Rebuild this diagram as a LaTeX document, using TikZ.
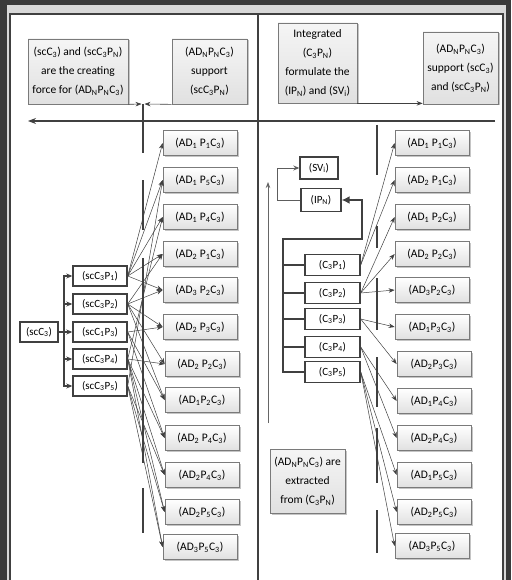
\documentclass[tikz,border=0pt]{standalone}
\usepackage{fontspec}
\setmainfont{Carlito}
\usetikzlibrary{arrows.meta,shadows,calc}
\newcommand\sbs[1]{\textsubscript{#1}}
\definecolor{lnc}{HTML}{404040}
\definecolor{frame}{HTML}{3A3A3A}
\definecolor{bgg}{HTML}{D8D8D8}
\definecolor{bxb}{HTML}{7A7A7A}
\begin{document}
\begin{tikzpicture}[x=1pt,y=-1pt,
  adbox/.style={draw=bxb,line width=0.7pt,top color=white,bottom color=black!12,
    minimum width=74pt,minimum height=25pt,inner sep=1pt,
    drop shadow={shadow xshift=1.5pt,shadow yshift=-1.5pt,opacity=0.45},
    font=\fontsize{11.5}{13}\selectfont},
  scbox/.style={draw=lnc,line width=1.4pt,fill=white,minimum height=20pt,inner sep=1pt,
    font=\fontsize{11}{13}\selectfont},
  txtbox/.style={draw=bxb,line width=0.7pt,top color=black!4,bottom color=black!12,
    align=center,inner sep=1pt,
    drop shadow={shadow xshift=1.5pt,shadow yshift=-1.5pt,opacity=0.45},
    font=\fontsize{11.5}{19}\selectfont},
  conn/.style={draw=lnc,line width=0.6pt,-{Stealth[length=6pt,width=4.5pt]}},
  fan/.style={draw=lnc,line width=0.5pt,-{Stealth[length=6pt,width=4.5pt]}},
  busline/.style={draw=lnc,line width=1.5pt},
  bar/.style={draw=lnc,line width=2pt}]
\useasboundingbox (0,0) rectangle (511,580);
% frame
\fill[frame] (0,0) rectangle (511,580);
\fill[bgg] (7,5) rectangle (506,580);
\fill[white] (10,14) rectangle (503,580);
\draw[lnc,line width=1.6pt] (10,582) -- (10,14) -- (503,14) -- (503,582);
% divider
\draw[lnc,line width=2.2pt] (258,14) -- (258,580);
% top text boxes
\node[txtbox,minimum width=100pt,minimum height=65pt] (A) at (78,71.5)
  {(scC\sbs{3}) and (scC\sbs{3}P\sbs{N})\\are the creating\\force for (AD\sbs{N}P\sbs{N}C\sbs{3})};
\node[txtbox,minimum width=75pt,minimum height=65pt] (B) at (209.5,71.5)
  {(AD\sbs{N}P\sbs{N}C\sbs{3})\\support\\(scC\sbs{3}P\sbs{N})};
\node[txtbox,minimum width=79pt,minimum height=80pt] (C) at (317.5,63)
  {Integrated\\(C\sbs{3}P\sbs{N})\\formulate the\\(IP\sbs{N}) and (SV\sbs{i})};
\node[txtbox,minimum width=75pt,minimum height=72pt] (D) at (460.5,68)
  {(AD\sbs{N}P\sbs{N}C\sbs{3})\\support (scC\sbs{3})\\and (scC\sbs{3}P\sbs{N})};
\node[txtbox,minimum width=75pt,minimum height=64pt] (E) at (307.5,481)
  {(AD\sbs{N}P\sbs{N}C\sbs{3}) are\\extracted\\from (C\sbs{3}P\sbs{N})};
% top connectors
\coordinate (m) at (143,104);
\draw[conn] (A.south east) -- ($(m)+(-1.5,0)$);
\draw[conn] (B.south west) -- ($(m)+(1.5,0)$);
\draw[conn] (C.south east) -- (C.south east -| D.west);
\coordinate (h1) at (495,121);
\coordinate (h0) at (28,121);
\draw[draw=lnc,line width=1.2pt,-{Stealth[length=8pt,width=6pt]}] (h1) -- (h0);
% dashed bars
\draw[bar] (143,104) -- (143,153);
\draw[bar] (143,180) -- (143,230);
\draw[bar] (143,258) -- (143,463);
\draw[bar] (143,488) -- (143,533);
\draw[bar] (377,125) -- (377,175);
\draw[bar] (377,226) -- (377,248);
\draw[bar] (377,278) -- (377,330);
\draw[bar] (377,357) -- (377,407);
\draw[bar] (377,428) -- (377,483);
\draw[bar] (377,510) -- (377,553);
% up arrow right
\coordinate (ua0) at (268,423);
\coordinate (ua1) at (268,182);
\draw[draw=lnc!80,line width=0.8pt,-{Stealth[length=6pt,width=4.5pt]}] (ua0) -- (ua1);
% left side nodes
\node[scbox,minimum width=38pt] (S) at (39,332) {(scC\sbs{3})};
\node[scbox,minimum width=54pt] (P1) at (100,276) {(scC\sbs{3}P\sbs{1})};
\node[scbox,minimum width=54pt] (P2) at (100,304) {(scC\sbs{3}P\sbs{2})};
\node[scbox,minimum width=54pt] (P3) at (100,332) {(scC\sbs{1}P\sbs{3})};
\node[scbox,minimum width=54pt] (P4) at (100,359) {(scC\sbs{3}P\sbs{4})};
\node[scbox,minimum width=54pt] (P5) at (100,386) {(scC\sbs{3}P\sbs{5})};
\coordinate (tr) at (64,332);
\draw[draw=lnc,line width=1.2pt] (S.east) -- (tr);
\foreach \i in {1,...,5}{
  \draw[draw=lnc,line width=1.2pt,-{Stealth[length=6pt,width=5pt]}] (tr) |- (P\i.west);
}
\node[adbox] (L1) at (200,143) {(AD\sbs{1} P\sbs{1}C\sbs{3})};
\node[adbox] (L2) at (200,180) {(AD\sbs{1} P\sbs{5}C\sbs{3})};
\node[adbox] (L3) at (200,217) {(AD\sbs{1} P\sbs{4}C\sbs{3})};
\node[adbox] (L4) at (200,254) {(AD\sbs{2} P\sbs{1}C\sbs{3})};
\node[adbox] (L5) at (200,290) {(AD\sbs{3} P\sbs{2}C\sbs{3})};
\node[adbox] (L6) at (200,327) {(AD\sbs{2} P\sbs{3}C\sbs{3})};
\node[adbox] (L7) at (202,364) {(AD\sbs{2} P\sbs{2}C\sbs{3})};
\node[adbox] (L8) at (202,400) {(AD\sbs{1}P\sbs{2}C\sbs{3})};
\node[adbox] (L9) at (202,438) {(AD\sbs{2} P\sbs{4}C\sbs{3})};
\node[adbox] (L10) at (202,475) {(AD\sbs{2}P\sbs{4}C\sbs{3})};
\node[adbox] (L11) at (202,512) {(AD\sbs{2}P\sbs{5}C\sbs{3})};
\node[adbox] (L12) at (200,547) {(AD\sbs{3}P\sbs{5}C\sbs{3})};
\foreach \p/\l in {1/1,1/2,5/2,1/3,4/3,1/4,2/4,1/5,2/5,2/6,3/6,2/7,4/7,2/8,3/8,
                   3/9,4/9,4/10,5/10,4/11,5/11,4/12,5/12}{
  \draw[fan] (P\p.east) -- (L\l.west);
}
% right side nodes
\node[scbox,minimum width=38pt,minimum height=22pt] (SV) at (319,168) {(SV\sbs{i})};
\node[scbox,minimum width=40pt,minimum height=23pt] (IP) at (321,200) {(IP\sbs{N})};
\draw[draw=lnc!85,line width=1pt,-{Stealth[length=6pt,width=5pt]}] (IP.west) -- ++(-23,0) |- (SV.west);
\node[scbox,minimum width=55pt,minimum height=21pt] (C1) at (332.5,265) {(C\sbs{3}P\sbs{1})};
\node[scbox,minimum width=55pt,minimum height=21pt] (C2) at (332.5,293) {(C\sbs{3}P\sbs{2})};
\node[scbox,minimum width=55pt,minimum height=21pt] (C3) at (332.5,319) {(C\sbs{3}P\sbs{3})};
\node[scbox,minimum width=55pt,minimum height=21pt] (C4) at (332.5,347) {(C\sbs{3}P\sbs{4})};
\node[scbox,minimum width=55pt,minimum height=21pt] (C5) at (332.5,372) {(C\sbs{3}P\sbs{5})};
\coordinate (bt) at (283,239);
\coordinate (bc) at (362,200);
\draw[busline,-{Latex[length=8pt,width=8pt]}] (C5.west) -| (bt) -| (bc) -- (IP.east);
\foreach \i in {1,...,4}{
  \draw[busline] (C\i.west) -- (C\i.west -| bt);
}
\node[adbox] (R1) at (432,143) {(AD\sbs{1} P\sbs{1}C\sbs{3})};
\node[adbox] (R2) at (432,180) {(AD\sbs{2} P\sbs{1}C\sbs{3})};
\node[adbox] (R3) at (432,217) {(AD\sbs{1} P\sbs{2}C\sbs{3})};
\node[adbox] (R4) at (432,254) {(AD\sbs{2} P\sbs{2}C\sbs{3})};
\node[adbox] (R5) at (432,290) {(AD\sbs{3}P\sbs{2}C\sbs{3})};
\node[adbox] (R6) at (432,327) {(AD\sbs{1}P\sbs{3}C\sbs{3})};
\node[adbox] (R7) at (434,364) {(AD\sbs{2}P\sbs{3}C\sbs{3})};
\node[adbox] (R8) at (434,401) {(AD\sbs{1}P\sbs{4}C\sbs{3})};
\node[adbox] (R9) at (434,438) {(AD\sbs{2}P\sbs{4}C\sbs{3})};
\node[adbox] (R10) at (434,475) {(AD\sbs{1}P\sbs{5}C\sbs{3})};
\node[adbox] (R11) at (434,512) {(AD\sbs{2}P\sbs{5}C\sbs{3})};
\node[adbox] (R12) at (432,546) {(AD\sbs{3}P\sbs{5}C\sbs{3})};
\foreach \c/\r in {1/1,1/2,2/3,2/4,2/5,3/6,3/7,4/8,4/9,5/10,5/11,5/12}{
  \draw[fan] (C\c.east) -- (R\r.west);
}
\end{tikzpicture}
\end{document}
